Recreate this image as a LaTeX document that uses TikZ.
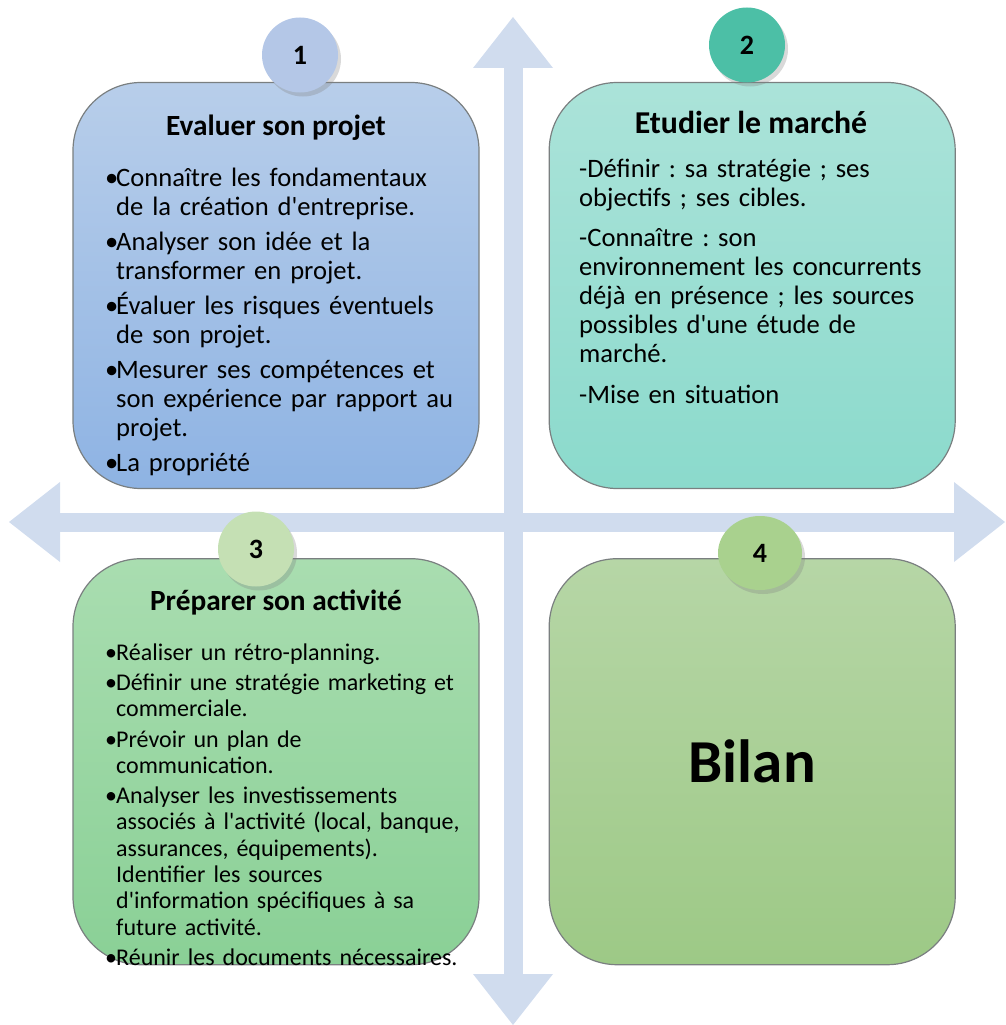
\documentclass[tikz,border=0pt]{standalone}
\usepackage{fontspec}
\setmainfont{Carlito}[Ligatures=TeXOff]
\usetikzlibrary{arrows.meta,positioning,shadows,shapes.geometric}

\definecolor{axe}{HTML}{D0DCEE}
\definecolor{bord}{HTML}{7A7F80}
\definecolor{rond1}{HTML}{B4C7E7}
\definecolor{rond2}{HTML}{4CBFA6}
\definecolor{rond3}{HTML}{C5E0B4}
\definecolor{rond4}{HTML}{A9D18E}
\definecolor{haut1}{HTML}{B8CEEA}
\definecolor{bas1}{HTML}{8EB3E3}
\definecolor{haut2}{HTML}{ABE3D9}
\definecolor{bas2}{HTML}{8BDACC}
\definecolor{haut3}{HTML}{A9DDB0}
\definecolor{bas3}{HTML}{8AD096}
\definecolor{haut4}{HTML}{B6D6A6}
\definecolor{bas4}{HTML}{9DC986}

\newcommand{\puce}[1]{\par\hangindent=11pt\hangafter=1\noindent\makebox[11pt][l]{\textbullet}#1}
\frenchspacing

\begin{document}
\begin{tikzpicture}[x=1pt, y=-1pt, node distance=69pt,
    panel/.style={draw=bord, line width=1.2pt, rounded corners=68pt, minimum width=406pt, minimum height=406pt, inner sep=0pt},
    pastille/.style={ellipse, minimum width=76pt, minimum height=75pt, inner sep=0pt, font=\fontsize{28}{32}\selectfont\bfseries, drop shadow={shadow xshift=3pt, shadow yshift=-4pt, opacity=0.3}},
    titre/.style={anchor=base, inner sep=0pt, font=\fontsize{29.3}{34}\selectfont\bfseries},
    texte/.style={anchor=north west, inner sep=0pt, text width=380pt, align=left, font=\fontsize{26.6}{29}\selectfont},
    axe/.style={draw=axe, line width=19pt, {Triangle[width=80pt, length=51pt, line width=0pt]}-{Triangle[width=80pt, length=51pt, line width=0pt]}}]
    \useasboundingbox (0,0) rectangle (1005,1025);
    % axes
    \coordinate (haut) at (513,17);
    \coordinate (bas) at (513,1025);
    \coordinate (gauche) at (9,522);
    \coordinate (droite) at (1005,522);
    \draw[axe] (haut) -- (bas);
    \draw[axe] (gauche) -- (droite);
    % quadrants
    \node[panel, top color=haut1, bottom color=bas1] (b1) at (276,285.5) {};
    \node[panel, top color=haut2, bottom color=bas2, right=of b1] (b2) {};
    \node[panel, top color=haut3, bottom color=bas3, below=of b1] (b3) {};
    \node[panel, top color=haut4, bottom color=bas4, right=of b3, font=\fontsize{61}{66}\selectfont\bfseries] (b4) {Bilan};
    \node[titre] (t1) at (276,135) {Evaluer son projet};
    \node[titre, font=\fontsize{31.8}{36}\selectfont\bfseries] (t2) at (751,133) {Etudier le marché};
    \node[titre] (t3) at (276,610) {Préparer son activité};
    \node[texte] (x1) at (105,157.7) {%
        \puce{\strut Connaître les fondamentaux\newline de la création d'entreprise.}
        \par\vspace{6pt}\puce{Analyser son idée et la\newline transformer en projet.}
        \par\vspace{6pt}\puce{Évaluer les risques éventuels\newline de son projet.}
        \par\vspace{6pt}\puce{Mesurer ses compétences et\newline son expérience par rapport au\newline projet.}
        \par\vspace{6pt}\puce{La propriété}};
    \node[texte] (x2) at (579,156.7) {%
        \noindent\strut -Définir : sa stratégie ; ses\newline objectifs ; ses cibles.
        \par\vspace{11pt}\noindent -Connaître : son\newline environnement les concurrents\newline déjà en présence ; les sources\newline possibles d'une étude de\newline marché.
        \par\vspace{12pt}\noindent -Mise en situation};
    \node[texte, font=\fontsize{24}{26.3}\selectfont] (x3) at (105,633.6) {%
        \puce{\strut Réaliser un rétro-planning.}
        \par\vspace{4pt}\puce{Définir une stratégie marketing et\newline commerciale.}
        \par\vspace{4pt}\puce{Prévoir un plan de\newline communication.}
        \par\vspace{4pt}\puce{Analyser les investissements\newline associés à l'activité (local, banque,\newline assurances, équipements).\newline Identifier les sources\newline d'information spécifiques à sa\newline future activité.}
        \par\vspace{4pt}\puce{Réunir les documents nécessaires.}};
    % pastilles
    \node[pastille, fill=rond1] (n1) at (300,55) {1};
    \node[pastille, fill=rond2] (n2) at (747,45) {2};
    \node[pastille, fill=rond3] (n3) at (256,549) {3};
    \node[pastille, fill=rond4, minimum width=84pt, minimum height=74pt] (n4) at (760,553) {4};
\end{tikzpicture}
\end{document}
